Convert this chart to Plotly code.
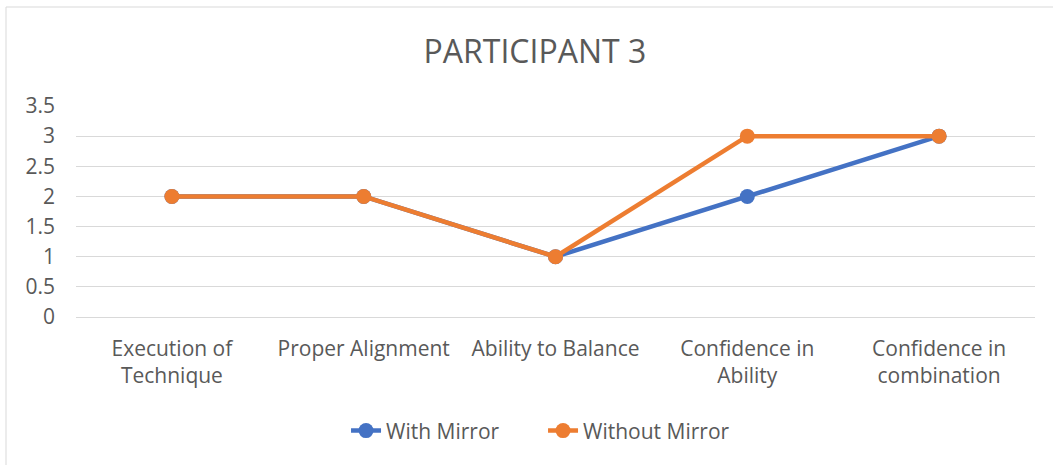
import plotly.graph_objects as go

categories = ["Execution of<br>Technique", "Proper Alignment", "Ability to Balance",
              "Confidence in<br>Ability", "Confidence in<br>combination"]
with_mirror = [2, 2, 1, 2, 3]
without_mirror = [2, 2, 1, 3, 3]
y_ticks = [0, 0.5, 1, 1.5, 2, 2.5, 3, 3.5]
y_tick_labels = ["0", "0.5", "1", "1.5", "2", "2.5", "3", "3.5"]

FONT = "Open Sans"
TXT = "#595959"
FS = 21

fig = go.Figure()
fig.add_trace(go.Scatter(x=categories, y=with_mirror, name="With Mirror",
                         mode="lines+markers",
                         line=dict(color="#4472C4", width=4.5),
                         marker=dict(color="#4472C4", size=15)))
fig.add_trace(go.Scatter(x=categories, y=without_mirror, name="Without Mirror",
                         mode="lines+markers",
                         line=dict(color="#ED7D31", width=4.5),
                         marker=dict(color="#ED7D31", size=15)))

fig.update_layout(
    width=1053, height=465,
    margin=dict(l=76, r=18, t=106, b=148),
    paper_bgcolor="white", plot_bgcolor="white",
    font=dict(family=FONT, color=TXT, size=FS),
    title=dict(text="PARTICIPANT 3", x=0.508, xanchor="center", y=0.888, yanchor="middle",
               font=dict(family=FONT, size=32, color=TXT)),
    showlegend=True,
    legend=dict(orientation="h", x=0.487, xanchor="center", y=-0.54, yanchor="middle",
                font=dict(family=FONT, size=FS, color=TXT),
                entrywidth=152, traceorder="normal"),
    xaxis=dict(type="category", showgrid=False, showline=False, zeroline=False,
               ticks="", tickfont=dict(family=FONT, size=FS, color=TXT),
               ticklabelstandoff=17, range=[-0.5, 4.5]),
    yaxis=dict(range=[0, 3.5], tickvals=y_ticks, ticktext=y_tick_labels,
               showgrid=True, gridcolor="#D9D9D9", gridwidth=1,
               zeroline=True, zerolinecolor="#D9D9D9", zerolinewidth=1,
               showline=False, ticks="", ticklabelstandoff=20,
               tickfont=dict(family=FONT, size=FS, color=TXT)),
    shapes=[dict(type="rect", xref="paper", yref="paper",
                 x0=-70/959, x1=1.1, y0=-2, y1=1 + 99/211,
                 line=dict(color="#D9D9D9", width=1), fillcolor="rgba(0,0,0,0)",
                 layer="below")],
)

fig.write_html("out.html", config={"displayModeBar": False},
               post_script="document.body.style.margin='0';")
